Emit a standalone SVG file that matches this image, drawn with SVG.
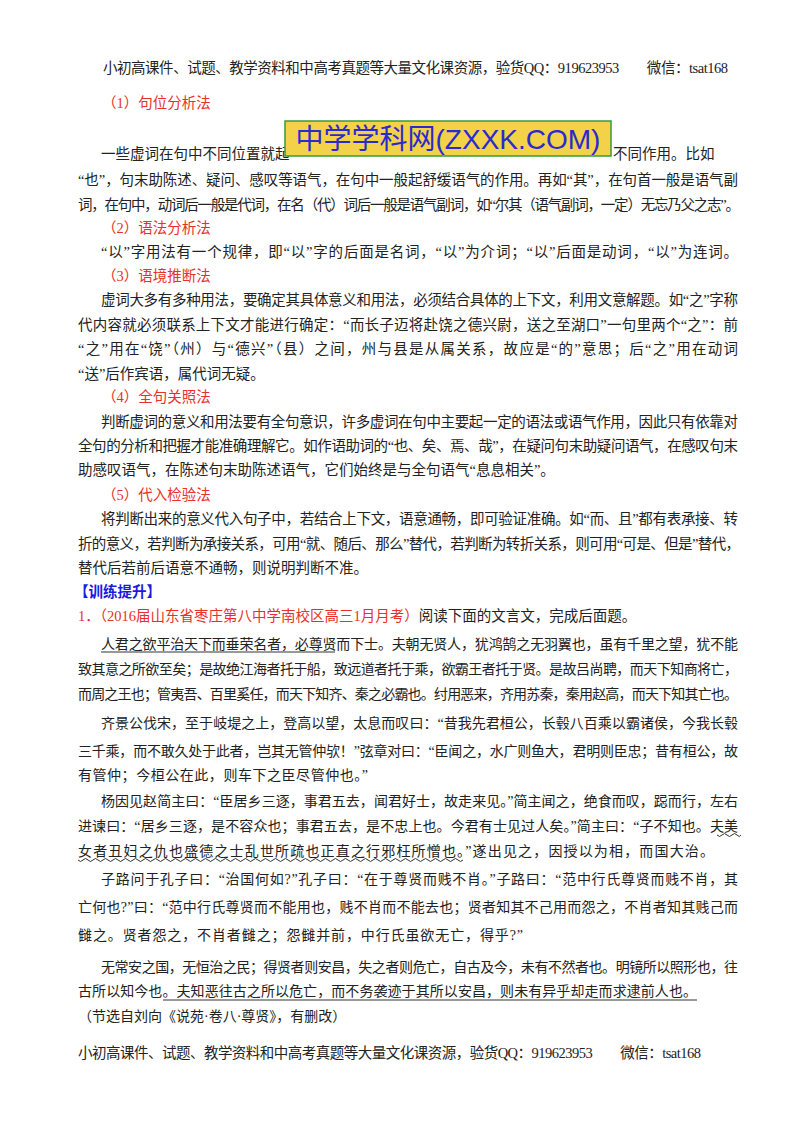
<svg xmlns="http://www.w3.org/2000/svg" width="800" height="1132" viewBox="0 0 800 1132">
<style>
text{font-family:"Liberation Serif","Noto Sans CJK SC",serif;font-size:14.5px;fill:#222}
.r{fill:#e8302a}
.b{fill:#1a1ae0;font-weight:bold}
.a{font-size:14px}
.u{stroke:#333;stroke-width:1;fill:none}
</style>
<rect width="800" height="1132" fill="#fff"/>
<g id="header"><text x="103" y="73" textLength="625" lengthAdjust="spacing">小初高课件、试题、教学资料和中高考真题等大量文化课资源，验货QQ：919623953　　微信：tsat168</text></g>
<g id="body">
<text class="r" x="102" y="108">（1）句位分析法</text>
<text x="101" y="159">一些虚词在句中不同位置就起</text>
<text x="613" y="159">不同作用。比如</text>
<text x="78" y="185" textLength="660" lengthAdjust="spacing">“也”，句末助陈述、疑问、感叹等语气，在句中一般起舒缓语气的作用。再如“其”，在句首一般是语气副</text>
<text x="78" y="210" textLength="662" lengthAdjust="spacing">词，在句中，动词后一般是代词，在名（代）词后一般是语气副词，如“尔其（语气副词，一定）无忘乃父之志”。</text>
<text class="r" x="102" y="233">（2）语法分析法</text>
<text x="101" y="257" textLength="637" lengthAdjust="spacing">“以”字用法有一个规律，即“以”字的后面是名词，“以”为介词；“以”后面是动词，“以”为连词。</text>
<text class="r" x="102" y="281">（3）语境推断法</text>
<text x="101" y="305" textLength="637" lengthAdjust="spacing">虚词大多有多种用法，要确定其具体意义和用法，必须结合具体的上下文，利用文意解题。如“之”字称</text>
<text x="78" y="330" textLength="660" lengthAdjust="spacing">代内容就必须联系上下文才能进行确定：“而长子迈将赴饶之德兴尉，送之至湖口”一句里两个“之”：前</text>
<text x="78" y="354" textLength="660" lengthAdjust="spacing">“之”用在“饶”（州）与“德兴”（县）之间，州与县是从属关系，故应是“的”意思；后“之”用在动词</text>
<text x="78" y="379">“送”后作宾语，属代词无疑。</text>
<text class="r" x="102" y="402">（4）全句关照法</text>
<text x="101" y="427" textLength="637" lengthAdjust="spacing">判断虚词的意义和用法要有全句意识，许多虚词在句中主要起一定的语法或语气作用，因此只有依靠对</text>
<text x="78" y="451" textLength="660" lengthAdjust="spacing">全句的分析和把握才能准确理解它。如作语助词的“也、矣、焉、哉”，在疑问句末助疑问语气，在感叹句末</text>
<text x="78" y="475">助感叹语气，在陈述句末助陈述语气，它们始终是与全句语气“息息相关”。</text>
<text class="r" x="102" y="500">（5）代入检验法</text>
<text x="101" y="524" textLength="637" lengthAdjust="spacing">将判断出来的意义代入句子中，若结合上下文，语意通畅，即可验证准确。如“而、且”都有表承接、转</text>
<text x="78" y="549" textLength="662" lengthAdjust="spacing">折的意义，若判断为承接关系，可用“就、随后、那么”替代，若判断为转折关系，则可用“可是、但是”替代，</text>
<text x="78" y="573">替代后若前后语意不通畅，则说明判断不准。</text>
<text class="b" x="74" y="597">【训练提升】</text>
<text x="78" y="621"><tspan class="r">1．（2016届山东省枣庄第八中学南校区高三1月月考）</tspan>阅读下面的文言文，完成后面题。</text>
<text class="a" x="101" y="649" textLength="637" lengthAdjust="spacing">人君之欲平治天下而垂荣名者，必尊贤而下士。夫朝无贤人，犹鸿鹄之无羽翼也，虽有千里之望，犹不能</text>
<text class="a" x="78" y="674" textLength="660" lengthAdjust="spacing">致其意之所欲至矣；是故绝江海者托于船，致远道者托于乘，欲霸王者托于贤。是故吕尚聘，而天下知商将亡，</text>
<text class="a" x="78" y="699" textLength="660" lengthAdjust="spacing">而周之王也；管夷吾、百里奚任，而天下知齐、秦之必霸也。纣用恶来，齐用苏秦，秦用赵高，而天下知其亡也。</text>
<text class="a" x="101" y="728" textLength="637" lengthAdjust="spacing">齐景公伐宋，至于岐堤之上，登高以望，太息而叹曰：“昔我先君桓公，长毂八百乘以霸诸侯，今我长毂</text>
<text class="a" x="78" y="756" textLength="660" lengthAdjust="spacing">三千乘，而不敢久处于此者，岂其无管仲欤！”弦章对曰：“臣闻之，水广则鱼大，君明则臣忠；昔有桓公，故</text>
<text class="a" x="78" y="780" textLength="290" lengthAdjust="spacing">有管仲；今桓公在此，则车下之臣尽管仲也。”</text>
<text class="a" x="101" y="806" textLength="637" lengthAdjust="spacing">杨因见赵简主曰：“臣居乡三逐，事君五去，闻君好士，故走来见。”简主闻之，绝食而叹，跽而行，左右</text>
<text class="a" x="78" y="831" textLength="660" lengthAdjust="spacing">进谏曰：“居乡三逐，是不容众也；事君五去，是不忠上也。今君有士见过人矣。”简主曰：“子不知也。夫美</text>
<text class="a" x="78" y="856" textLength="636" lengthAdjust="spacing">女者丑妇之仇也盛德之士乱世所疏也正直之行邪枉所憎也。”遂出见之，因授以为相，而国大治。</text>
<text class="a" x="101" y="884" textLength="637" lengthAdjust="spacing">子路问于孔子曰：“治国何如?”孔子曰：“在于尊贤而贱不肖。”子路曰：“范中行氏尊贤而贱不肖，其</text>
<text class="a" x="78" y="912" textLength="660" lengthAdjust="spacing">亡何也?”曰：“范中行氏尊贤而不能用也，贱不肖而不能去也；贤者知其不己用而怨之，不肖者知其贱己而</text>
<text class="a" x="78" y="940" textLength="445" lengthAdjust="spacing">雠之。贤者怨之，不肖者雠之；怨雠并前，中行氏虽欲无亡，得乎?”</text>
<text class="a" x="101" y="972" textLength="637" lengthAdjust="spacing">无常安之国，无恒治之民；得贤者则安昌，失之者则危亡，自古及今，未有不然者也。明镜所以照形也，往</text>
<text class="a" x="78" y="996" textLength="619" lengthAdjust="spacing">古所以知今也。夫知恶往古之所以危亡，而不务袭迹于其所以安昌，则未有异乎却走而求逮前人也。</text>
<text class="a" x="78" y="1021">（节选自刘向《说苑·卷八·尊贤》，有删改）</text>
</g>
<g id="banner">
<rect x="285" y="121" width="326" height="35" fill="#f3d24a" stroke="#3a9a3a" stroke-width="1.5"/>
<text x="448" y="149" text-anchor="middle" style="font-family:'Liberation Sans','Noto Sans CJK SC',sans-serif;font-size:28px;fill:#2a2ad0">中学学科网(ZXXK.COM)</text>
</g>
<g id="underlines">
<line class="u" x1="101" y1="652" x2="335" y2="652"/>
<path class="u" d="M717 835 q2.5 3 5 0 t5 0 t5 0 t5 0 t4 0"/>
<path class="u" d="M78 860 q2.5 3 5 0 t5 0 t5 0 t5 0 t5 0 t5 0 t5 0 t5 0 t5 0 t5 0 t5 0 t5 0 t5 0 t5 0 t5 0 t5 0 t5 0 t5 0 t5 0 t5 0 t5 0 t5 0 t5 0 t5 0 t5 0 t5 0 t5 0 t5 0 t5 0 t5 0 t5 0 t5 0 t5 0 t5 0 t5 0 t5 0 t5 0 t5 0 t5 0 t5 0 t5 0 t5 0 t5 0 t5 0 t5 0 t5 0 t5 0 t5 0 t5 0 t5 0 t5 0 t5 0 t5 0 t5 0 t5 0 t5 0 t5 0 t5 0 t5 0 t5 0 t5 0 t5 0 t5 0 t5 0 t5 0 t5 0 t5 0 t5 0 t5 0 t5 0 t5 0 t5 0 t5 0 t5 0 t5 0 t5 0 t5 0"/>
<line class="u" x1="163" y1="1000" x2="697" y2="1000"/>
</g>
<g id="footer"><text x="78" y="1058" textLength="623" lengthAdjust="spacing">小初高课件、试题、教学资料和中高考真题等大量文化课资源，验货QQ：919623953　　微信：tsat168</text></g>
</svg>
